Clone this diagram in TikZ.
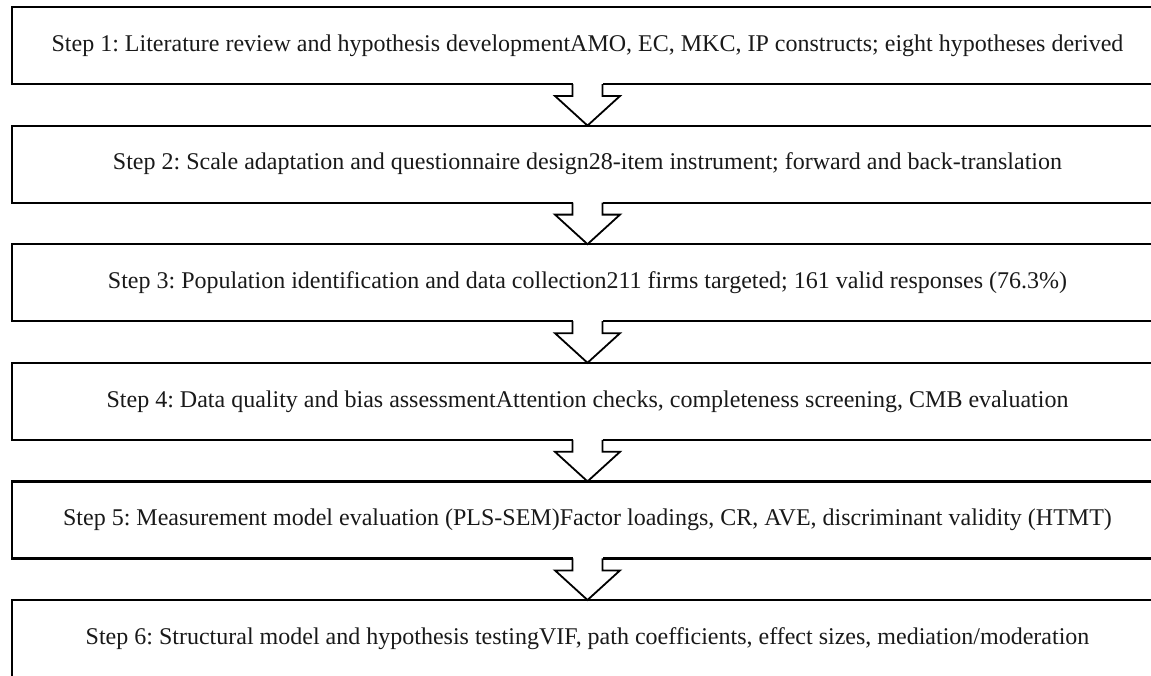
\documentclass[tikz,border=0pt]{standalone}
\usepackage{fontspec}
\setmainfont{Liberation Serif}
\usetikzlibrary{positioning}
\frenchspacing

\tikzset{
  stepbox/.style={draw=black, line width=2.2pt, minimum width=1151pt,
    minimum height=77pt, inner sep=0pt, outer sep=0pt,
    font=\fontsize{24}{28}\selectfont, text=black!90},
  flowarrow/.style={draw=black, line width=1.8pt, line join=miter},
}

% hollow block arrow from the bottom of one step to the top of the next
\newcommand\blockarrow[2]{%
  \fill[white] ([xshift=-15pt,yshift=1.3pt]#1.south) rectangle ([xshift=15pt,yshift=-1.3pt]#1.south);
  \draw[flowarrow] ([xshift=-15pt]#1.south) -- ++(0,-12pt) -- ++(-17.5pt,0)
    -- (#2.north) -- ([xshift=32.5pt,yshift=-12pt]#1.south) -- ++(-17.5pt,0)
    -- ([xshift=15pt]#1.south);
}

\begin{document}
\begin{tikzpicture}
        \useasboundingbox (0,0) rectangle (1151pt,-675pt);
        \clip (0,0) rectangle (1151pt,-675pt);

        \node [stepbox] (step1) at (587.5pt,-45.5pt)
            {Step 1: Literature review and hypothesis developmentAMO, EC, MKC, IP constructs; eight hypotheses derived};
        \node [stepbox, below=41.6pt of step1] (step2)
            {Step 2: Scale adaptation and questionnaire design28-item instrument; forward and back-translation};
        \node [stepbox, below=41.6pt of step2] (step3)
            {Step 3: Population identification and data collection211 firms targeted; 161 valid responses (76.3\%)};
        \node [stepbox, below=41.6pt of step3] (step4)
            {Step 4: Data quality and bias assessmentAttention checks, completeness screening, CMB evaluation};
        \node [stepbox, below=41.6pt of step4] (step5)
            {Step 5: Measurement model evaluation (PLS-SEM)Factor loadings, CR, AVE, discriminant validity (HTMT)};
        \node [stepbox, below=41.6pt of step5] (step6)
            {Step 6: Structural model and hypothesis testingVIF, path coefficients, effect sizes, mediation/moderation};

        % arrows between the steps
        \foreach \from/\to in {1/2, 2/3, 3/4, 4/5, 5/6}{
            \blockarrow{step\from}{step\to}
        }
\end{tikzpicture}
\end{document}
